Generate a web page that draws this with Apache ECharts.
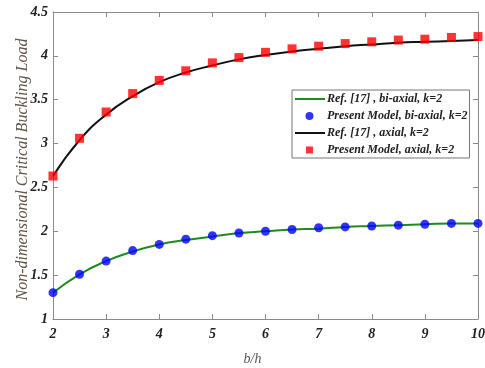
<!DOCTYPE html>
<html><head><meta charset="utf-8">
<script src="https://cdn.jsdelivr.net/npm/echarts@6/dist/echarts.min.js"></script>
<style>html,body{margin:0;padding:0;background:#fff}#c{width:485px;height:368px}</style>
</head><body><div id="c"></div>
<script>
var bh = [2,2.5,3,3.5,4,4.5,5,5.5,6,6.5,7,7.5,8,8.5,9,9.5,10];
var refAxial = [2.63,3.04,3.33,3.54,3.70,3.81,3.89,3.96,4.01,4.05,4.08,4.11,4.13,4.15,4.16,4.17,4.18];
var presentAxial = [2.63,3.06,3.36,3.57,3.72,3.83,3.92,3.98,4.04,4.08,4.11,4.14,4.16,4.18,4.19,4.21,4.22];
var refBiaxial = [1.30,1.51,1.66,1.77,1.85,1.90,1.94,1.98,2.00,2.02,2.03,2.05,2.06,2.07,2.08,2.09,2.09];
var presentBiaxial = [1.30,1.51,1.66,1.78,1.85,1.91,1.95,1.98,2.00,2.02,2.04,2.05,2.06,2.07,2.08,2.09,2.09];
var names = ['Ref. [17] , bi-axial, k=2','Present Model, bi-axial, k=2','Ref. [17] , axial, k=2','Present Model, axial, k=2'];

function pairs(v){ return bh.map(function(x,i){ return [x, v[i]]; }); }
var serif = 'Liberation Serif';
var lab = {fontFamily: serif, fontStyle:'italic', fontWeight:'bold', fontSize:14, color:'#222'};
var axLine = {lineStyle:{color:'#8a8a8a', width:1}};
var tick = {inside:true, length:5, lineStyle:{color:'#8a8a8a'}};
// legend icon boxes 30x12 (tiny corner dots keep the box size)
var corners = 'M0,0 L0.01,0 L0.01,0.01 Z M30,12 L29.99,12 L29.99,11.99 Z ';
var iconLine = 'path://' + corners + 'M0,5.1 L30,5.1 L30,6.9 L0,6.9 Z';
var iconRect = 'path://' + corners + 'M11,2.5 L18,2.5 L18,9.5 L11,9.5 Z';
var iconCircle = 'path://' + corners + 'M14.5,2 A4,4 0 1,1 14.49,2 Z';

var chart = echarts.init(document.getElementById('c'));
chart.setOption({
  animation:false,
  backgroundColor:'#fff',
  grid:{left:53, right:7, top:12, bottom:49, containLabel:false, outerBoundsMode:'none'},
  xAxis:[
    {type:'value', min:2, max:10, interval:1, axisLine:axLine, axisTick:tick, splitLine:{show:false},
     axisLabel:Object.assign({margin:8}, lab),
     name:'b/h', nameLocation:'middle', nameGap:33, nameMoveOverlap:false,
     nameTextStyle:{fontFamily:serif, fontStyle:'italic', fontSize:14, color:'#555', padding:[0,26,0,0]}},
    {type:'value', position:'top', min:2, max:10, interval:1, axisLine:axLine, axisTick:tick, axisLabel:{show:false}, splitLine:{show:false}}
  ],
  yAxis:[
    {type:'value', min:1, max:4.5, interval:0.5, axisLine:Object.assign({show:true}, axLine), axisTick:Object.assign({show:true}, tick), splitLine:{show:false},
     axisLabel:Object.assign({margin:5}, lab),
     name:'Non-dimensional Critical Buckling Load', nameLocation:'middle', nameGap:22, nameMoveOverlap:false,
     nameTextStyle:{fontFamily:serif, fontStyle:'italic', fontSize:16, color:'#5f5448', padding:[0,8,0,0]}},
    {type:'value', position:'right', min:1, max:4.5, interval:0.5, axisLine:Object.assign({show:true}, axLine), axisTick:Object.assign({show:true}, tick), axisLabel:{show:false}, splitLine:{show:false}}
  ],
  legend:{
    orient:'vertical', left:292, top:90,
    backgroundColor:'#fff', borderColor:'#777', borderWidth:1,
    padding:[3,2,2,3], itemGap:5, itemWidth:30, itemHeight:12,
    textStyle:{fontFamily:serif, fontStyle:'italic', fontWeight:'bold', fontSize:12, color:'#222', padding:[0,0,0,-3]},
    data:[
      {name:names[0], icon:iconLine},
      {name:names[1], icon:iconCircle},
      {name:names[2], icon:iconLine},
      {name:names[3], icon:iconRect}
    ]
  },
  series:[
    {name:names[0], type:'line', smooth:true, symbol:'none', data:pairs(refBiaxial), lineStyle:{color:'#1f8a1f', width:2}, itemStyle:{color:'#1f8a1f'}, z:2},
    {name:names[1], type:'scatter', symbol:'circle', symbolSize:9, data:pairs(presentBiaxial), itemStyle:{color:'#0000ff'}, z:3},
    {name:names[2], type:'line', smooth:true, symbol:'none', data:pairs(refAxial), lineStyle:{color:'#111', width:2}, itemStyle:{color:'#111'}, z:2},
    {name:names[3], type:'scatter', symbol:'rect', symbolSize:9, data:pairs(presentAxial), itemStyle:{color:'#ff0000'}, z:3}
  ]
});
</script></body></html>
